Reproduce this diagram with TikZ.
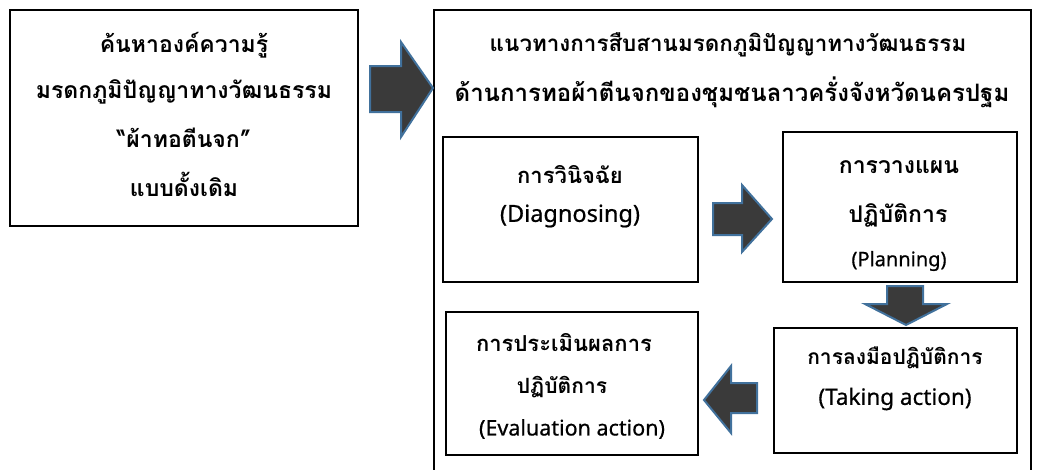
\documentclass[tikz,border=0pt]{standalone}
\usepackage{fontspec}
\newfontfamily\thaifont[Script=Thai]{Loma}
\newfontfamily\latfont[FakeBold=0.6]{Noto Sans}
\definecolor{arrowfill}{HTML}{3A3A3A}
\definecolor{arrowedge}{HTML}{41719C}
\newcommand{\thsz}[1]{\thaifont\bfseries\fontsize{#1}{#1}\selectfont}
\newcommand{\ltsz}[1]{\latfont\fontsize{#1}{#1}\selectfont}
\tikzset{
  box/.style={draw=black, line width=2pt, fill=white, inner sep=0pt},
  txt/.style={inner sep=0pt, anchor=center},
  blockarrow/.style={fill=arrowfill, draw=arrowedge, line width=2pt, line join=miter}
}
\begin{document}
\begin{tikzpicture}[x=1pt,y=-1pt]
\useasboundingbox (0,0) rectangle (1037,469);
% left box
\node[box, minimum width=348pt, minimum height=216pt] (src) at (184,118) {};
\node[txt, font=\thsz{23}] (s1) at (184,45) {ค้นหาองค์ความรู้};
\node[txt, font=\thsz{23}] (s2) at (184,92) {มรดกภูมิปัญญาทางวัฒนธรรม};
\node[txt, font=\thsz{23}] (s3) at (184,138) {“ผ้าทอตีนจก”};
\node[txt, font=\thsz{23}] (s4) at (184,184) {แบบดั้งเดิม};
% big frame (open at bottom)
\coordinate (fbl) at (434,475);
\coordinate (ftl) at (434,10);
\coordinate (ftr) at (1031,10);
\coordinate (fbr) at (1031,475);
\draw[line width=2pt] (fbl) -- (ftl) -- (ftr) -- (fbr);
\node[txt, font=\thsz{22.4}] (t1) at (728,45) {แนวทางการสืบสานมรดกภูมิปัญญาทางวัฒนธรรม};
\node[txt, font=\thsz{24}] (t2) at (732,92) {ด้านการทอผ้าตีนจกของชุมชนลาวครั่งจังหวัดนครปฐม};
% inner boxes
\node[box, minimum width=255pt, minimum height=145pt] (diag) at (570.5,209.5) {};
\node[txt, font=\thsz{22}] (d1) at (570,175) {การวินิจฉัย};
\node[txt, font=\ltsz{23.5}] (d2) at (570,216) {(Diagnosing)};
\node[box, minimum width=234pt, minimum height=150pt] (plan) at (900,207) {};
\node[txt, font=\thsz{23}] (p1) at (899,167) {การวางแผน};
\node[txt, font=\thsz{23}] (p2) at (898,215) {ปฏิบัติการ};
\node[txt, font=\ltsz{20}] (p3) at (899,261) {(Planning)};
\node[box, minimum width=243pt, minimum height=125pt] (act) at (895.5,390.5) {};
\node[txt, font=\thsz{21}] (a1) at (895,358) {การลงมือปฏิบัติการ};
\node[txt, font=\ltsz{22.5}] (a2) at (895,399) {(Taking action)};
\node[box, minimum width=252pt, minimum height=143pt] (eval) at (572,383.5) {};
\node[txt, font=\thsz{22}] (e1) at (564,343) {การประเมินผลการ};
\node[txt, font=\thsz{21}] (e2) at (562,387) {ปฏิบัติการ};
\node[txt, font=\ltsz{21.5}] (e3) at (572,429) {(Evaluation action)};
% block arrows
\draw[blockarrow] (370,66) -- (401,66) -- (401,42) -- (433,88) -- (401,137) -- (401,112) -- (370,112) -- cycle;
\draw[blockarrow] (713,203) -- (742,203) -- (742,185) -- (772,219) -- (742,252) -- (742,235) -- (713,235) -- cycle;
\draw[blockarrow] (887,286) -- (923,286) -- (923,304) -- (947,304) -- (906,325) -- (865,304) -- (887,304) -- cycle;
\draw[blockarrow] (757,383) -- (731,383) -- (731,366) -- (704,400) -- (731,433) -- (731,413) -- (757,413) -- cycle;
\end{tikzpicture}
\end{document}
